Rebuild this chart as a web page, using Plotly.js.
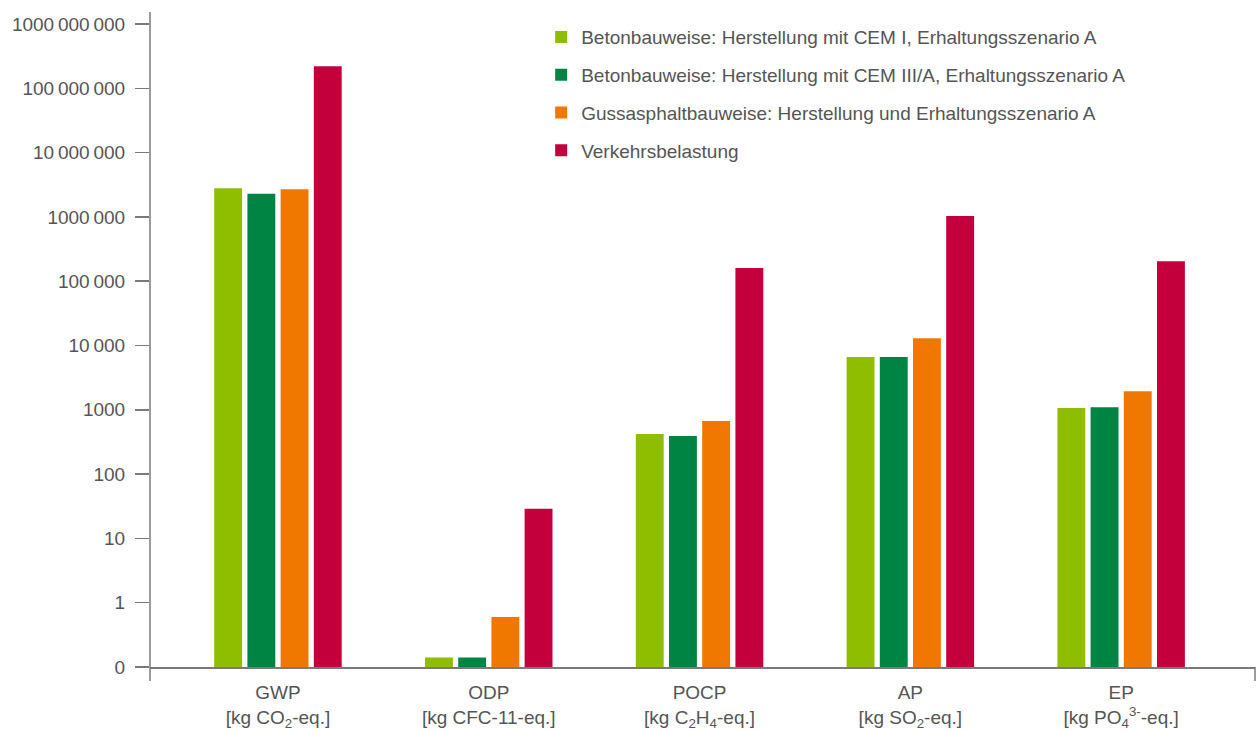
<!DOCTYPE html>
<html>
<head>
<meta charset="utf-8">
<script src="https://cdn.plot.ly/plotly-3.0.1.min.js"></script>
<style>html,body{margin:0;padding:0;background:#fff;}#chart{width:1258px;height:731px;}</style>
</head>
<body>
<div id="chart"></div>
<script>
var categories = [
  "GWP<br>[kg CO<sub>2</sub>-eq.]",
  "ODP<br>[kg CFC-11-eq.]",
  "POCP<br>[kg C<sub>2</sub>H<sub>4</sub>-eq.]",
  "AP<br>[kg SO<sub>2</sub>-eq.]",
  "EP<br>[kg PO<sub>4</sub><sup>3-</sup>-eq.]"
];
var seriesNames = [
  "Betonbauweise: Herstellung mit CEM I, Erhaltungsszenario A",
  "Betonbauweise: Herstellung mit CEM III/A, Erhaltungsszenario A",
  "Gussasphaltbauweise: Herstellung und Erhaltungsszenario A",
  "Verkehrsbelastung"
];
var cem1 = [2800000, 0.14, 420, 6600, 1070];
var cem3 = [2300000, 0.14, 390, 6600, 1100];
var guss = [2700000, 0.6, 670, 13000, 1950];
var verkehr = [220000000, 29, 160000, 1030000, 205000];
var tickVals = [0.1, 1, 10, 100, 1000, 10000, 100000, 1000000, 10000000, 100000000, 1000000000];
var tickText = ["0", "1", "10", "100", "1000", "10\u2009000", "100\u2009000", "1000\u2009000", "10\u2009000\u2009000", "100\u2009000\u2009000", "1000\u2009000\u2009000"];
var colors = ["#8fbe00", "#008444", "#f07800", "#c4003c"];

var allSeries = [cem1, cem3, guss, verkehr];
var traces = allSeries.map(function (vals, i) {
  return {
    type: "bar",
    x: categories,
    y: vals,
    name: seriesNames[i],
    legendgroup: "g" + i,
    marker: { color: colors[i], line: { width: 0 } },
    hoverinfo: "y+name"
  };
});

var axisColor = "#7a7a7a";
var textColor = "#555";
var layout = {
  width: 1258,
  height: 731,
  margin: { l: 150, r: 3, t: 24, b: 64 },
  paper_bgcolor: "#fff",
  plot_bgcolor: "#fff",
  font: { family: "Liberation Sans, Arial, sans-serif", size: 19, color: textColor },
  barmode: "group",
  bargap: 0.37,
  bargroupgap: 0.16,
  showlegend: true,
  legend: {
    x: 0.354, xanchor: "left",
    y: 1.009, yanchor: "top",
    traceorder: "grouped",
    tracegroupgap: 10,
    font: { size: 19, color: textColor },
    bgcolor: "rgba(0,0,0,0)"
  },
  xaxis: {
    type: "category",
    range: [-0.607, 4.635],
    showline: true,
    linecolor: axisColor,
    linewidth: 1.5,
    ticks: "",
    showgrid: false,
    zeroline: false,
    ticklabelstandoff: 8,
    tickfont: { size: 19, color: textColor }
  },
  yaxis: {
    type: "log",
    range: [-1, 9],
    tickvals: tickVals,
    ticktext: tickText,
    ticks: "outside",
    ticklen: 14,
    tickwidth: 1.5,
    tickcolor: axisColor,
    ticklabelstandoff: 6,
    showline: false,
    showgrid: false,
    zeroline: false,
    tickfont: { size: 19, color: textColor }
  },
  shapes: [
    { type: "line", xref: "paper", yref: "paper", x0: 0, x1: 0, y0: -0.0218, y1: 1.0187,
      line: { color: axisColor, width: 1.5 } },
    { type: "line", xref: "paper", yref: "paper", x0: 1, x1: 1, y0: 0, y1: -0.0218,
      line: { color: axisColor, width: 1.5 } }
  ]
};

Plotly.newPlot("chart", traces, layout, { displayModeBar: false, staticPlot: true });
</script>
</body>
</html>
